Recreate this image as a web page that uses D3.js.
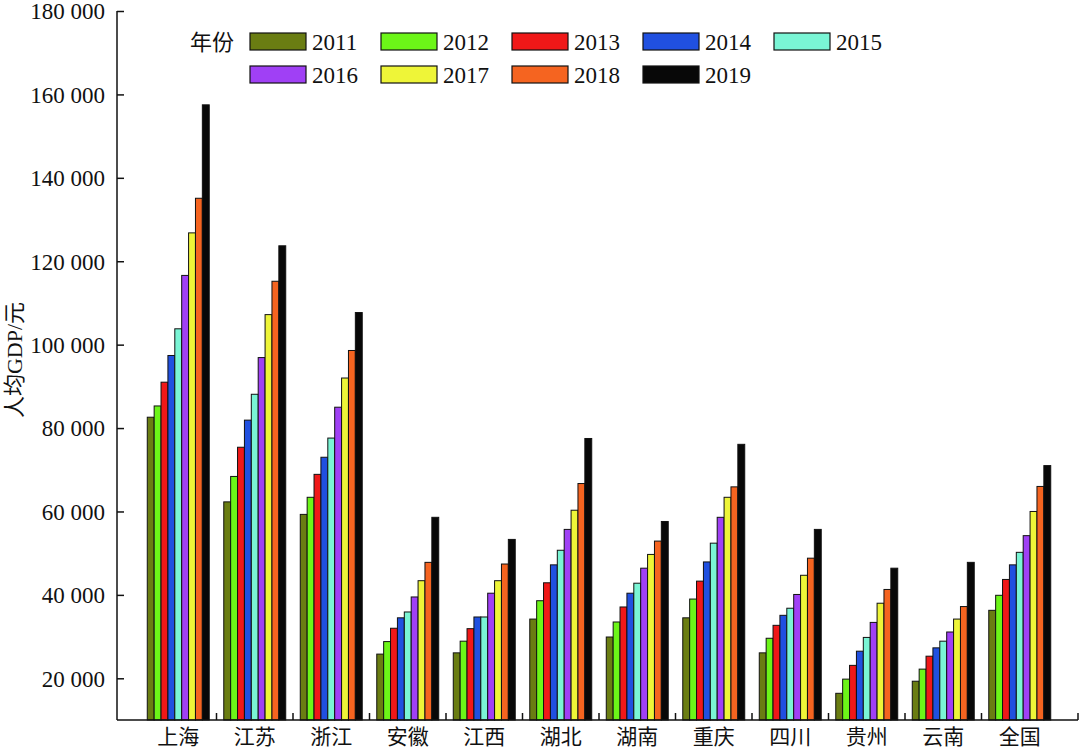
<!DOCTYPE html>
<html>
<head>
<meta charset="utf-8">
<script src="https://cdn.jsdelivr.net/npm/d3@7"></script>
<style>
  html, body { margin: 0; padding: 0; background: #fff; }
  svg { display: block; }
  text { fill: #111; }
</style>
</head>
<body>
<svg id="chart" width="1080" height="753"></svg>
<script>
const regions = ["上海", "江苏", "浙江", "安徽", "江西", "湖北", "湖南", "重庆", "四川", "贵州", "云南", "全国"];
const years = ["2011", "2012", "2013", "2014", "2015", "2016", "2017", "2018", "2019"];
const colors = ["#6a7d12", "#6cf518", "#f01818", "#2050e0", "#7af5d5", "#a040f5", "#eef538", "#f56420", "#080808"];

const v2011 = [82600, 62300, 59300, 25800, 26100, 34200, 29900, 34500, 26100, 16400, 19300, 36300];
const v2012 = [85300, 68400, 63400, 28800, 28900, 38600, 33500, 39000, 29600, 19800, 22200, 39900];
const v2013 = [91000, 75400, 68900, 32000, 31900, 42900, 37100, 43300, 32700, 23100, 25300, 43700];
const v2014 = [97400, 81900, 73000, 34500, 34700, 47200, 40400, 47900, 35100, 26500, 27300, 47200];
const v2015 = [103800, 88100, 77600, 35900, 34700, 50700, 42800, 52400, 36800, 29800, 28900, 50200];
const v2016 = [116600, 96900, 85000, 39500, 40400, 55700, 46400, 58600, 40100, 33400, 31100, 54200];
const v2017 = [126800, 107200, 92000, 43400, 43400, 60300, 49700, 63400, 44700, 38000, 34200, 60000];
const v2018 = [135100, 115200, 98600, 47800, 47400, 66700, 52900, 65900, 48800, 41300, 37200, 66000];
const v2019 = [157500, 123700, 107700, 58600, 53300, 77500, 57600, 76100, 55700, 46400, 47800, 71000];
const series = [v2011, v2012, v2013, v2014, v2015, v2016, v2017, v2018, v2019];

const yTicks = [20000, 40000, 60000, 80000, 100000, 120000, 140000, 160000, 180000];
const yLabel = "人均GDP/元";
const legendTitle = "年份";

const svg = d3.select("#chart");
const axisLeftX = 117, axisRightX = 1078, baseY = 720, topY = 11;

const y = d3.scaleLinear().domain([10000, 180000]).range([baseY, topY]);
const x0 = d3.scaleBand().domain(regions).range([140, 1058]).paddingInner(0.19).paddingOuter(0.095);
const x1 = d3.scaleBand().domain(years).range([0, x0.bandwidth()]);

const fmt = v => d3.format(",")(v).replace(/,/g, " ");

// Bars
const groups = svg.append("g").selectAll("g").data(regions).join("g")
  .attr("transform", d => `translate(${x0(d)},0)`);
groups.selectAll("rect")
  .data((d, i) => years.map((yr, j) => ({ yr, j, v: series[j][i] })))
  .join("rect")
  .attr("x", d => x1(d.yr))
  .attr("y", d => y(d.v))
  .attr("width", x1.bandwidth())
  .attr("height", d => baseY - y(d.v))
  .attr("fill", d => colors[d.j])
  .attr("stroke", "#111")
  .attr("stroke-width", 1);

// Y axis
const yAxis = d3.axisLeft(y).tickValues(yTicks).tickSize(-7).tickPadding(12).tickFormat(fmt);
const gy = svg.append("g").attr("transform", `translate(${axisLeftX},0)`).call(yAxis);
gy.select(".domain").remove();
gy.append("line").attr("x1", 0).attr("x2", 0).attr("y1", topY).attr("y2", baseY)
  .attr("stroke", "#111").attr("stroke-width", 1.5);
gy.selectAll(".tick line").attr("stroke", "#111").attr("stroke-width", 1.5);
gy.selectAll(".tick text")
  .attr("font-family", "'Liberation Serif', 'Times New Roman', serif")
  .attr("font-size", 23).attr("fill", "#111").attr("dy", "0.34em");

// X axis
const gx = svg.append("g");
gx.append("line").attr("x1", axisLeftX).attr("x2", axisRightX).attr("y1", baseY).attr("y2", baseY)
  .attr("stroke", "#111").attr("stroke-width", 1.5);
const step = x0.step();
const boundaries = regions.slice(1).map(r => x0(r) - step * x0.paddingInner() / 2);
boundaries.push(axisRightX);
gx.selectAll("line.tk").data(boundaries).join("line").attr("class", "tk")
  .attr("x1", d => d).attr("x2", d => d).attr("y1", baseY).attr("y2", baseY - 7)
  .attr("stroke", "#111").attr("stroke-width", 1.5);
gx.selectAll("text").data(regions).join("text")
  .attr("x", d => x0(d) + x0.bandwidth() / 2)
  .attr("y", 737)
  .attr("dy", "0.35em")
  .attr("text-anchor", "middle")
  .attr("font-family", "'Noto Sans CJK SC', sans-serif")
  .attr("font-size", 21)
  .text(d => d);

// Y label
svg.append("text")
  .attr("transform", "translate(14,360) rotate(-90)")
  .attr("text-anchor", "middle")
  .attr("dy", "0.35em")
  .attr("font-size", 22)
  .attr("font-family", "'Liberation Serif', 'Noto Sans CJK SC', serif")
  .text(yLabel);

// Legend
const lg = svg.append("g");
lg.append("text").attr("x", 190).attr("y", 42).attr("dy", "0.35em")
  .attr("font-family", "'Noto Sans CJK SC', sans-serif").attr("font-size", 22)
  .text(legendTitle);
const items = lg.selectAll("g").data(years).join("g")
  .attr("transform", (d, i) => `translate(${250 + (i % 5) * 131},${i < 5 ? 33 : 66})`);
items.append("rect").attr("width", 56).attr("height", 17)
  .attr("fill", (d, i) => colors[i]).attr("stroke", "#111").attr("stroke-width", 1.2);
items.append("text").attr("x", 62).attr("y", 9).attr("dy", "0.35em")
  .attr("font-family", "'Liberation Serif', 'Times New Roman', serif")
  .attr("font-size", 23).text(d => d);
</script>
</body>
</html>
